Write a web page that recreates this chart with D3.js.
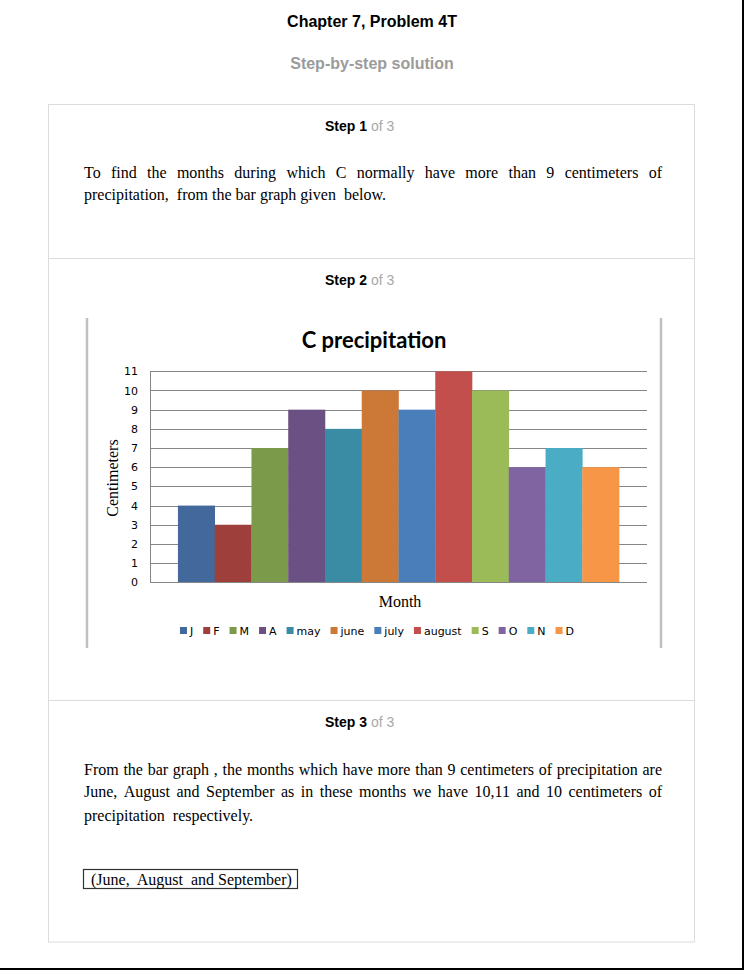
<!DOCTYPE html>
<html>
<head>
<meta charset="utf-8">
<script src="https://cdn.jsdelivr.net/npm/d3@7"></script>
<style>
  html, body { margin: 0; padding: 0; background: #fff; }
  svg { display: block; }
</style>
</head>
<body>
<script>
// ---------- data ----------
const months = ["J", "F", "M", "A", "may", "june", "july", "august", "S", "O", "N", "D"];
const precipitation = [4, 3, 7, 9, 8, 10, 9, 11, 10, 6, 7, 6];
const barColors = ["#43699c", "#9f3f3b", "#7b9a4a", "#6a5083", "#398ca4", "#cc7837",
                   "#4a7ebb", "#c24f4c", "#9bbb59", "#8064a2", "#4bacc6", "#f79646"];
const yTicks = [0, 1, 2, 3, 4, 5, 6, 7, 8, 9, 10, 11];

const pageTitle = "Chapter 7, Problem 4T";
const pageSubtitle = "Step-by-step solution";
const chartTitle = "C precipitation";
const yTitle = "Centimeters";
const xTitle = "Month";
const step1Lines = [
  {text: "To find the months during which C normally have more than 9 centimeters of", justify: true},
  {text: "precipitation,  from the bar graph given  below.", justify: false}
];
const step3Lines = [
  {text: "From the bar graph , the months which have more than 9 centimeters of precipitation are", justify: true},
  {text: "June, August and September as in these months we have 10,11 and 10 centimeters of", justify: true},
  {text: "precipitation  respectively.", justify: false}
];
const answerText = "(June,  August  and September)";

// ---------- page ----------
const W = 744, H = 970;
const svg = d3.select("body").append("svg").attr("width", W).attr("height", H);
svg.append("rect").attr("width", W).attr("height", H).attr("fill", "#fff");

const sans = "'Liberation Sans', Arial, sans-serif";
const serif = "'Liberation Serif', 'Times New Roman', serif";
const chartSans = "'DejaVu Sans', Verdana, sans-serif";

// page edge lines (right & bottom)
svg.append("rect").attr("x", 742).attr("y", 0).attr("width", 2).attr("height", H).attr("fill", "#000");
svg.append("rect").attr("x", 0).attr("y", 968).attr("width", W).attr("height", 2).attr("fill", "#000");

svg.append("text").attr("x", 372).attr("y", 27).attr("text-anchor", "middle")
  .attr("font-family", sans).attr("font-weight", "bold").attr("font-size", 16).attr("fill", "#000")
  .text(pageTitle);
svg.append("text").attr("x", 372).attr("y", 69).attr("text-anchor", "middle")
  .attr("font-family", sans).attr("font-weight", "bold").attr("font-size", 16).attr("fill", "#9b9b9b")
  .text(pageSubtitle);

// solution box
svg.append("rect").attr("x", 48.5).attr("y", 104.5).attr("width", 646).attr("height", 837.5)
  .attr("fill", "none").attr("stroke", "#dcdcdc").attr("stroke-width", 1);
[258.5, 700.5].forEach(yy => {
  svg.append("line").attr("x1", 48.5).attr("x2", 694.5).attr("y1", yy).attr("y2", yy)
    .attr("stroke", "#dcdcdc").attr("stroke-width", 1);
});

function stepHeading(n, y) {
  const t = svg.append("text").attr("x", 325).attr("y", y)
    .attr("font-family", sans).attr("font-size", 14);
  t.append("tspan").attr("font-weight", "bold").attr("fill", "#000").text("Step " + n);
  t.append("tspan").attr("fill", "#a8a8a8").text(" of 3");
}
stepHeading(1, 131);
stepHeading(2, 285);
stepHeading(3, 727);

function paragraph(lines, x0, x1, yStart, lineHeights) {
  let y = yStart;
  lines.forEach((ln, i) => {
    const words = ln.text.split(/\s+/);
    const t = svg.append("text").attr("y", y)
      .attr("font-family", serif).attr("font-size", 16).attr("fill", "#000");
    if (ln.justify) {
      const spans = words.map(w => t.append("tspan").text(w));
      const widths = spans.map(s => s.node().getComputedTextLength());
      const total = d3.sum(widths);
      const gap = (x1 - x0 - total) / (words.length - 1);
      let x = x0;
      spans.forEach((s, k) => { s.attr("x", x); x += widths[k] + gap; });
    } else {
      t.attr("x", x0).attr("xml:space", "preserve").text(ln.text);
    }
    y += lineHeights[i] || 22;
  });
}
paragraph(step1Lines, 84, 662, 178, [22, 22]);
paragraph(step3Lines, 84, 662, 775, [21.5, 24]);

// answer box
svg.append("rect").attr("x", 83.5).attr("y", 869.5).attr("width", 214).attr("height", 19)
  .attr("fill", "#fff").attr("stroke", "#333").attr("stroke-width", 1.2);
svg.append("text").attr("x", 91).attr("y", 884.5).attr("xml:space", "preserve")
  .attr("font-family", serif).attr("font-size", 16).attr("fill", "#000").text(answerText);

// ---------- chart ----------
// chart frame side lines
[87, 661].forEach(xx => {
  svg.append("line").attr("x1", xx).attr("x2", xx).attr("y1", 318).attr("y2", 648)
    .attr("stroke", "#c0c0c0").attr("stroke-width", 2.5);
});

svg.append("text").attr("x", 374).attr("y", 348).attr("text-anchor", "middle")
  .attr("font-family", "Lato, 'Open Sans', sans-serif").attr("font-weight", "bold")
  .attr("font-size", 22).attr("fill", "#000").text(chartTitle);

const plot = {left: 150, right: 647, top: 371.3, bottom: 582.3};
const y = d3.scaleLinear().domain([0, 11]).range([plot.bottom, plot.top]);

// single category, 12 series, Excel-style gap width
const gapWidth = 1.52;
const barW = (plot.right - plot.left) / (months.length + gapWidth);
const x1 = d3.scaleBand().domain(months)
  .range([plot.left + gapWidth * barW / 2, plot.right - gapWidth * barW / 2])
  .padding(0);

const g = svg.append("g");

// gridlines
const grid = g.append("g").attr("transform", `translate(${plot.left},0)`)
  .call(d3.axisLeft(y).tickValues(yTicks).tickSize(-(plot.right - plot.left)).tickFormat(""));
grid.select(".domain").remove();
grid.selectAll(".tick line").attr("stroke", "#868686").attr("stroke-width", 1)
  .attr("shape-rendering", "crispEdges");

// bars
g.selectAll("rect.bar").data(months).enter().append("rect").attr("class", "bar")
  .attr("x", d => x1(d))
  .attr("width", x1.bandwidth() + 0.3)
  .attr("y", (d, i) => y(precipitation[i]))
  .attr("height", (d, i) => y(0) - y(precipitation[i]))
  .attr("fill", (d, i) => barColors[i]);

// y axis labels + axis line
const yAx = g.append("g").attr("transform", `translate(${plot.left},0)`)
  .call(d3.axisLeft(y).tickValues(yTicks).tickSize(0).tickPadding(12).tickFormat(d3.format("d")));
yAx.select(".domain").attr("stroke", "#868686").attr("shape-rendering", "crispEdges");
yAx.selectAll(".tick text").attr("font-family", chartSans).attr("font-size", 11).attr("fill", "#000");

// bottom axis line
g.append("line").attr("x1", plot.left).attr("x2", plot.right)
  .attr("y1", y(0)).attr("y2", y(0)).attr("stroke", "#868686").attr("shape-rendering", "crispEdges");

// axis titles
svg.append("text").attr("transform", `translate(118,478) rotate(-90)`).attr("text-anchor", "middle")
  .attr("font-family", serif).attr("font-size", 16).attr("fill", "#000").text(yTitle);
svg.append("text").attr("x", 400).attr("y", 607).attr("text-anchor", "middle")
  .attr("font-family", serif).attr("font-size", 16).attr("fill", "#000").text(xTitle);

// legend
const legend = svg.append("g");
const sq = 7, sqGap = 3, itemGap = 10;
let lx = 0;
const items = months.map((m, i) => {
  const it = legend.append("g");
  it.append("rect").attr("width", sq).attr("height", sq).attr("y", -sq / 2 - 0.5).attr("fill", barColors[i]);
  const tx = it.append("text").attr("x", sq + sqGap).attr("y", 4)
    .attr("font-family", chartSans).attr("font-size", 11).attr("fill", "#000").text(m);
  const w = sq + sqGap + tx.node().getComputedTextLength();
  it.attr("transform", `translate(${lx},0)`);
  lx += w + itemGap;
  return it;
});
const legendW = lx - itemGap;
legend.attr("transform", `translate(${377 - legendW / 2},631)`);
</script>
</body>
</html>
